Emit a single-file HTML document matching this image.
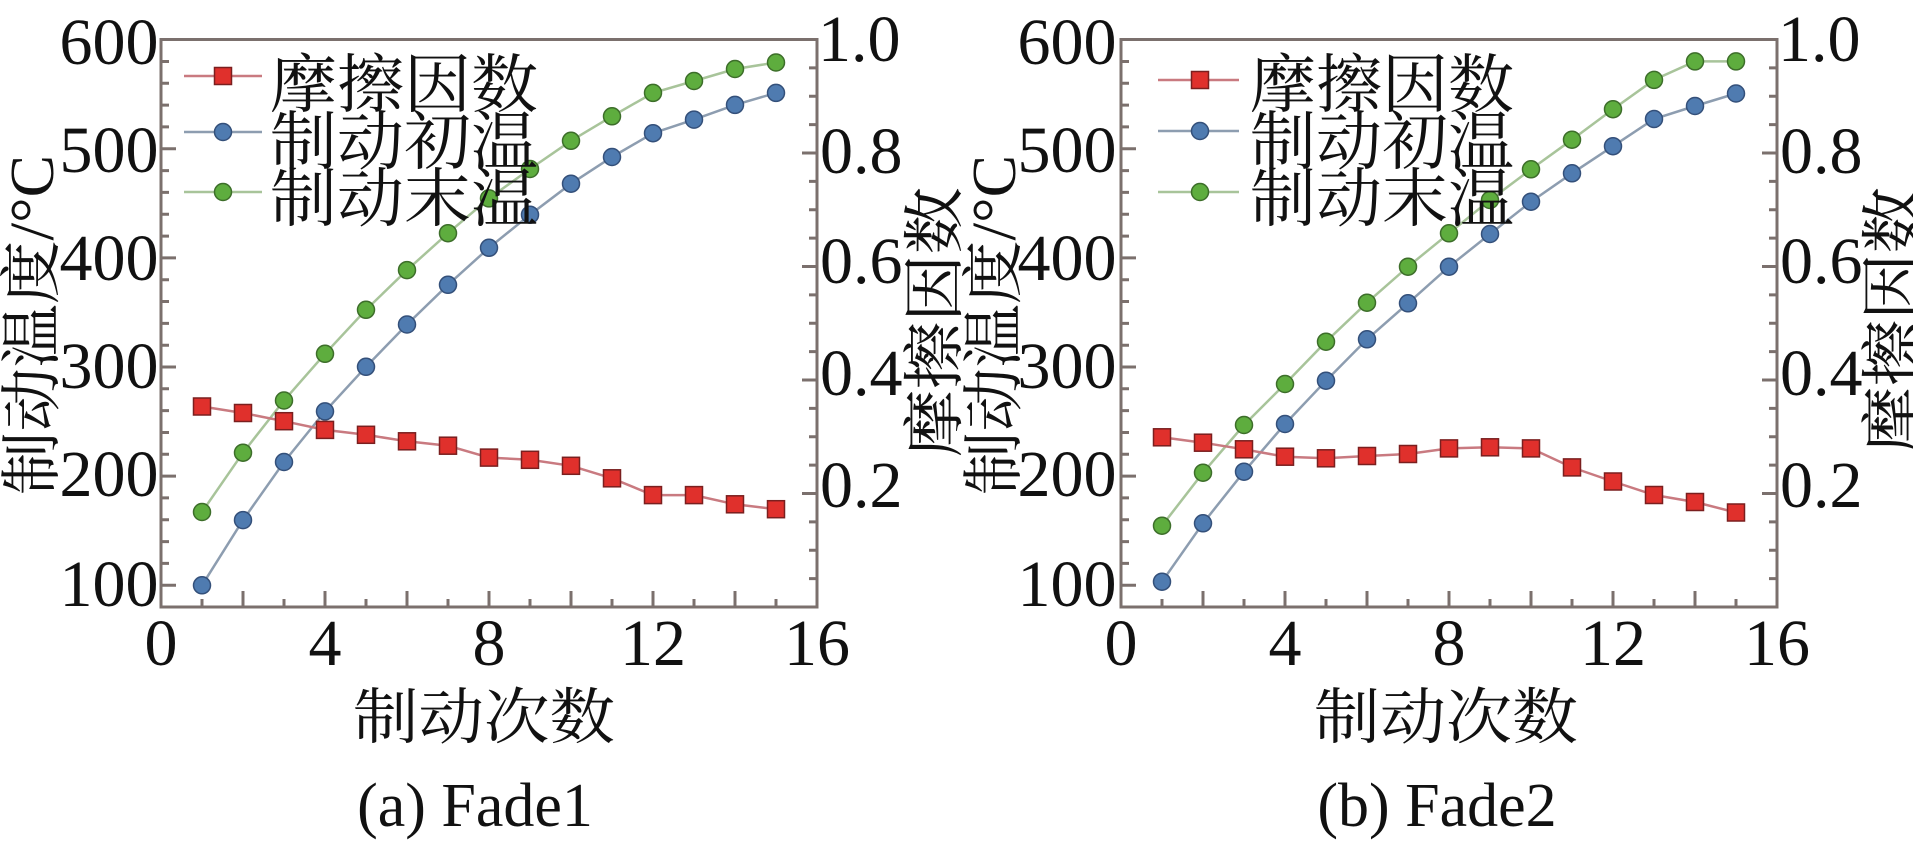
<!DOCTYPE html>
<html>
<head>
<meta charset="utf-8">
<style>
html,body{margin:0;padding:0;background:#fff;}
body{width:1913px;height:852px;overflow:hidden;}
svg{display:block;}
.num{font-family:"Liberation Serif",serif;font-size:66px;fill:#111;}
.cap{font-family:"Liberation Serif",serif;font-size:62px;fill:#111;}
.cjk{font-family:"Noto Serif CJK SC","Liberation Serif",serif;fill:#111;}
.mix{font-family:"Liberation Serif","Noto Serif CJK SC",serif;fill:#111;}
.frame{fill:none;stroke:#7b706d;stroke-width:3;}
.tk{stroke:#7b706d;stroke-width:3;}
.lr{fill:none;stroke:#c97a80;stroke-width:2.5;}
.lb{fill:none;stroke:#8d9db0;stroke-width:2.5;}
.lg{fill:none;stroke:#a8c49a;stroke-width:2.5;}
.mr{fill:#e0302c;stroke:#7a1f1f;stroke-width:1.5;}
.mb{fill:#4f7bb0;stroke:#34507a;stroke-width:1.5;}
.mg{fill:#5ead3e;stroke:#3d6e2a;stroke-width:1.5;}
</style>
</head>
<body>
<svg width="1913" height="852" viewBox="0 0 1913 852" xmlns="http://www.w3.org/2000/svg">
<defs>
  <g id="ticks">
    <!-- left axis ticks (x=161), values 100..580 step 20 -->
    <path class="tk" d="M161 585.2h15 M161 563.4h8 M161 541.6h8 M161 519.8h8 M161 497.9h8 M161 476.1h15 M161 454.3h8 M161 432.5h8 M161 410.6h8 M161 388.8h8 M161 367h15 M161 345.2h8 M161 323.4h8 M161 301.5h8 M161 279.7h8 M161 257.9h15 M161 236.1h8 M161 214.2h8 M161 192.4h8 M161 170.6h8 M161 148.8h15 M161 126.9h8 M161 105.1h8 M161 83.3h8 M161 61.5h8"/>
    <!-- right axis ticks (x=817), values 0.05..0.95 -->
    <path class="tk" d="M817 578.6h-8 M817 550.3h-8 M817 521.9h-8 M817 493.5h-15 M817 465.1h-8 M817 436.8h-8 M817 408.4h-8 M817 380h-15 M817 351.6h-8 M817 323.3h-8 M817 294.9h-8 M817 266.5h-15 M817 238.1h-8 M817 209.8h-8 M817 181.4h-8 M817 153h-15 M817 124.6h-8 M817 96.3h-8 M817 67.9h-8"/>
    <!-- bottom ticks -->
    <path class="tk" d="M202 607v-8 M243 607v-16 M284 607v-8 M325 607v-16 M366 607v-8 M407 607v-16 M448 607v-8 M489 607v-16 M530 607v-8 M571 607v-16 M612 607v-8 M653 607v-16 M694 607v-8 M735 607v-16 M776 607v-8"/>
    <rect class="frame" x="161" y="39.5" width="656" height="567.5"/>
  </g>
</defs>

<!-- ================= Fade1 ================= -->
<use href="#ticks"/>

<!-- left tick labels -->
<g class="num" text-anchor="end">
  <text x="158.5" y="64">600</text>
  <text x="158.5" y="172">500</text>
  <text x="158.5" y="280">400</text>
  <text x="158.5" y="388">300</text>
  <text x="158.5" y="496">200</text>
  <text x="158.5" y="606">100</text>
</g>
<!-- right tick labels -->
<g class="num">
  <text x="818" y="61">1.0</text>
  <text x="820" y="173">0.8</text>
  <text x="820" y="283">0.6</text>
  <text x="820" y="395">0.4</text>
  <text x="820" y="507">0.2</text>
</g>
<!-- x tick labels -->
<g class="num" text-anchor="middle">
  <text x="161" y="665">0</text>
  <text x="325" y="665">4</text>
  <text x="489" y="665">8</text>
  <text x="653" y="665">12</text>
  <text x="817" y="665">16</text>
</g>

<!-- series Fade1 -->
<polyline class="lg" points="202,512 243,452.7 284,400.5 325,353.8 366,309.8 407,270.1 448,233.2 489,198.4 530,169 571,140.8 612,116.3 653,92.9 694,81 735,69 776,62.5"/>
<g class="mg">
  <circle cx="202" cy="512" r="8.5"/><circle cx="243" cy="452.7" r="8.5"/><circle cx="284" cy="400.5" r="8.5"/><circle cx="325" cy="353.8" r="8.5"/><circle cx="366" cy="309.8" r="8.5"/><circle cx="407" cy="270.1" r="8.5"/><circle cx="448" cy="233.2" r="8.5"/><circle cx="489" cy="198.4" r="8.5"/><circle cx="530" cy="169" r="8.5"/><circle cx="571" cy="140.8" r="8.5"/><circle cx="612" cy="116.3" r="8.5"/><circle cx="653" cy="92.9" r="8.5"/><circle cx="694" cy="81" r="8.5"/><circle cx="735" cy="69" r="8.5"/><circle cx="776" cy="62.5" r="8.5"/>
</g>
<polyline class="lb" points="202,585.3 243,520.1 284,462 325,411.4 366,366.8 407,324.5 448,284.8 489,247.8 530,214.7 571,183.7 612,157 653,133.2 694,119.6 735,104.9 776,92.9"/>
<g class="mb">
  <circle cx="202" cy="585.3" r="8.5"/><circle cx="243" cy="520.1" r="8.5"/><circle cx="284" cy="462" r="8.5"/><circle cx="325" cy="411.4" r="8.5"/><circle cx="366" cy="366.8" r="8.5"/><circle cx="407" cy="324.5" r="8.5"/><circle cx="448" cy="284.8" r="8.5"/><circle cx="489" cy="247.8" r="8.5"/><circle cx="530" cy="214.7" r="8.5"/><circle cx="571" cy="183.7" r="8.5"/><circle cx="612" cy="157" r="8.5"/><circle cx="653" cy="133.2" r="8.5"/><circle cx="694" cy="119.6" r="8.5"/><circle cx="735" cy="104.9" r="8.5"/><circle cx="776" cy="92.9" r="8.5"/>
</g>
<polyline class="lr" points="202,406.5 243,413 284,421.2 325,429.9 366,434.8 407,441.3 448,445.7 489,457.6 530,459.8 571,465.8 612,478.3 653,495.1 694,495.1 735,504.3 776,509.2"/>
<g class="mr">
  <rect x="193.5" y="398" width="17" height="17"/><rect x="234.5" y="404.5" width="17" height="17"/><rect x="275.5" y="412.7" width="17" height="17"/><rect x="316.5" y="421.4" width="17" height="17"/><rect x="357.5" y="426.3" width="17" height="17"/><rect x="398.5" y="432.8" width="17" height="17"/><rect x="439.5" y="437.2" width="17" height="17"/><rect x="480.5" y="449.1" width="17" height="17"/><rect x="521.5" y="451.3" width="17" height="17"/><rect x="562.5" y="457.3" width="17" height="17"/><rect x="603.5" y="469.8" width="17" height="17"/><rect x="644.5" y="486.6" width="17" height="17"/><rect x="685.5" y="486.6" width="17" height="17"/><rect x="726.5" y="495.8" width="17" height="17"/><rect x="767.5" y="500.7" width="17" height="17"/>
</g>

<!-- legend Fade1 -->
<line class="lr" x1="184" y1="76" x2="262" y2="76"/>
<rect class="mr" x="214.5" y="67.5" width="17" height="17"/>
<line class="lb" x1="184" y1="132" x2="262" y2="132"/>
<circle class="mb" cx="223" cy="132" r="8.5"/>
<line class="lg" x1="184" y1="192" x2="262" y2="192"/>
<circle class="mg" cx="223" cy="192" r="8.5"/>
<g class="cjk" font-size="64">
  <text x="270" y="107" textLength="268" lengthAdjust="spacingAndGlyphs">摩擦因数</text>
  <text x="270" y="164" textLength="268" lengthAdjust="spacingAndGlyphs">制动初温</text>
  <text x="270" y="221" textLength="268" lengthAdjust="spacingAndGlyphs">制动末温</text>
</g>

<!-- axis titles Fade1 -->
<text class="mix" font-size="62" text-anchor="middle" transform="translate(53,325) rotate(-90)" textLength="340" lengthAdjust="spacingAndGlyphs">制动温度/°C</text>
<text class="cjk" font-size="62" text-anchor="middle" transform="translate(956,322) rotate(-90)" textLength="270" lengthAdjust="spacingAndGlyphs">摩擦因数</text>
<text class="cjk" font-size="61" text-anchor="middle" x="484" y="738" textLength="262" lengthAdjust="spacingAndGlyphs">制动次数</text>
<text class="cap" text-anchor="middle" x="475" y="826">(a) Fade1</text>

<!-- ================= Fade2 ================= -->
<use href="#ticks" transform="translate(960,0)"/>

<g class="num" text-anchor="end">
  <text x="1116.5" y="64">600</text>
  <text x="1116.5" y="172">500</text>
  <text x="1116.5" y="280">400</text>
  <text x="1116.5" y="388">300</text>
  <text x="1116.5" y="496">200</text>
  <text x="1116.5" y="606">100</text>
</g>
<g class="num">
  <text x="1778" y="61">1.0</text>
  <text x="1780" y="173">0.8</text>
  <text x="1780" y="283">0.6</text>
  <text x="1780" y="395">0.4</text>
  <text x="1780" y="507">0.2</text>
</g>
<g class="num" text-anchor="middle">
  <text x="1121" y="665">0</text>
  <text x="1285" y="665">4</text>
  <text x="1449" y="665">8</text>
  <text x="1613" y="665">12</text>
  <text x="1777" y="665">16</text>
</g>

<polyline class="lg" points="1162,525.7 1203,472.7 1244,425 1285,384 1326,341.7 1367,302.7 1408,266.7 1449,233.3 1490,200 1531,169.3 1572,139.7 1613,109.2 1654,79.9 1695,61.4 1736,61.4"/>
<g class="mg">
  <circle cx="1162" cy="525.7" r="8.5"/><circle cx="1203" cy="472.7" r="8.5"/><circle cx="1244" cy="425" r="8.5"/><circle cx="1285" cy="384" r="8.5"/><circle cx="1326" cy="341.7" r="8.5"/><circle cx="1367" cy="302.7" r="8.5"/><circle cx="1408" cy="266.7" r="8.5"/><circle cx="1449" cy="233.3" r="8.5"/><circle cx="1490" cy="200" r="8.5"/><circle cx="1531" cy="169.3" r="8.5"/><circle cx="1572" cy="139.7" r="8.5"/><circle cx="1613" cy="109.2" r="8.5"/><circle cx="1654" cy="79.9" r="8.5"/><circle cx="1695" cy="61.4" r="8.5"/><circle cx="1736" cy="61.4" r="8.5"/>
</g>
<polyline class="lb" points="1162,581.7 1203,523.3 1244,471.7 1285,424 1326,380.7 1367,339.3 1408,303.3 1449,266.7 1490,234 1531,201.7 1572,173.3 1613,146.2 1654,119 1695,106 1736,93.5"/>
<g class="mb">
  <circle cx="1162" cy="581.7" r="8.5"/><circle cx="1203" cy="523.3" r="8.5"/><circle cx="1244" cy="471.7" r="8.5"/><circle cx="1285" cy="424" r="8.5"/><circle cx="1326" cy="380.7" r="8.5"/><circle cx="1367" cy="339.3" r="8.5"/><circle cx="1408" cy="303.3" r="8.5"/><circle cx="1449" cy="266.7" r="8.5"/><circle cx="1490" cy="234" r="8.5"/><circle cx="1531" cy="201.7" r="8.5"/><circle cx="1572" cy="173.3" r="8.5"/><circle cx="1613" cy="146.2" r="8.5"/><circle cx="1654" cy="119" r="8.5"/><circle cx="1695" cy="106" r="8.5"/><circle cx="1736" cy="93.5" r="8.5"/>
</g>
<polyline class="lr" points="1162,437.3 1203,442.7 1244,449.3 1285,456.7 1326,458.3 1367,456 1408,454 1449,448.4 1490,447.3 1531,448.4 1572,467.4 1613,481.5 1654,495 1695,502 1736,512.5"/>
<g class="mr">
  <rect x="1153.5" y="428.8" width="17" height="17"/><rect x="1194.5" y="434.2" width="17" height="17"/><rect x="1235.5" y="440.8" width="17" height="17"/><rect x="1276.5" y="448.2" width="17" height="17"/><rect x="1317.5" y="449.8" width="17" height="17"/><rect x="1358.5" y="447.5" width="17" height="17"/><rect x="1399.5" y="445.5" width="17" height="17"/><rect x="1440.5" y="439.9" width="17" height="17"/><rect x="1481.5" y="438.8" width="17" height="17"/><rect x="1522.5" y="439.9" width="17" height="17"/><rect x="1563.5" y="458.9" width="17" height="17"/><rect x="1604.5" y="473" width="17" height="17"/><rect x="1645.5" y="486.5" width="17" height="17"/><rect x="1686.5" y="493.5" width="17" height="17"/><rect x="1727.5" y="504" width="17" height="17"/>
</g>

<!-- legend Fade2 -->
<line class="lr" x1="1158" y1="80" x2="1239" y2="80"/>
<rect class="mr" x="1191.5" y="71.5" width="17" height="17"/>
<line class="lb" x1="1158" y1="131" x2="1239" y2="131"/>
<circle class="mb" cx="1200" cy="131" r="8.5"/>
<line class="lg" x1="1158" y1="192" x2="1239" y2="192"/>
<circle class="mg" cx="1200" cy="192" r="8.5"/>
<g class="cjk" font-size="64">
  <text x="1250" y="107" textLength="264" lengthAdjust="spacingAndGlyphs">摩擦因数</text>
  <text x="1250" y="164" textLength="264" lengthAdjust="spacingAndGlyphs">制动初温</text>
  <text x="1250" y="221" textLength="264" lengthAdjust="spacingAndGlyphs">制动末温</text>
</g>

<text class="mix" font-size="62" text-anchor="middle" transform="translate(1015,325) rotate(-90)" textLength="340" lengthAdjust="spacingAndGlyphs">制动温度/°C</text>
<text class="cjk" font-size="62" text-anchor="middle" transform="translate(1914,320) rotate(-90)" textLength="266" lengthAdjust="spacingAndGlyphs">摩擦因数</text>
<text class="cjk" font-size="61" text-anchor="middle" x="1446" y="738" textLength="264" lengthAdjust="spacingAndGlyphs">制动次数</text>
<text class="cap" text-anchor="middle" x="1437" y="826">(b) Fade2</text>
</svg>
</body>
</html>
